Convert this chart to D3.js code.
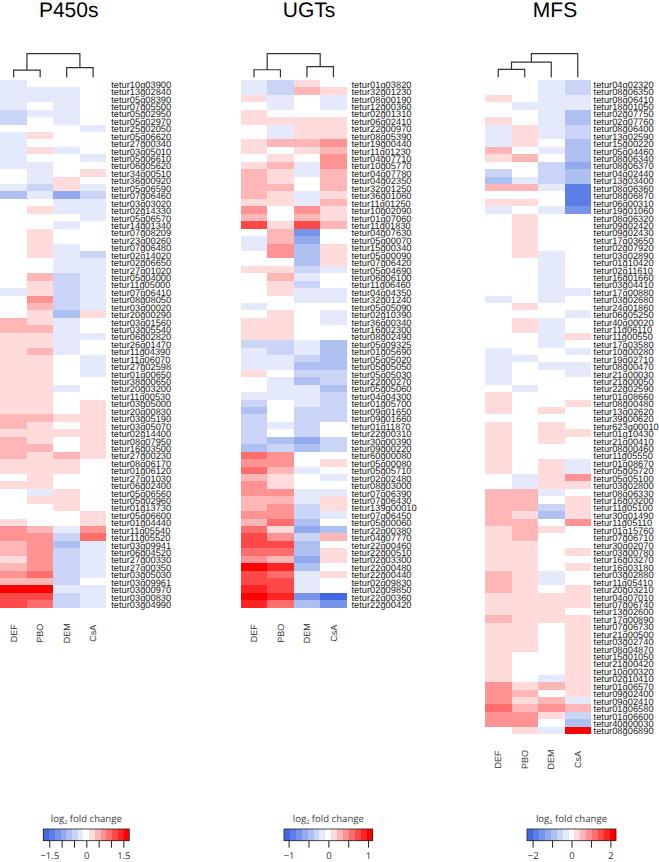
<!DOCTYPE html>
<html>
<head>
<meta charset="utf-8">
<script src="https://d3js.org/d3.v7.min.js"></script>
<style>
  html, body { margin: 0; padding: 0; background: #fff; }
  svg { display: block; font-family: "Liberation Sans", Arial, sans-serif; text-rendering: geometricPrecision; }
</style>
</head>
<body>
<div id="chart"></div>
<script>
// Treatments, same column order in all three heatmaps
const conditions = ["DEF", "PBO", "DEM", "CsA"];

// Gene labels, top to bottom
const p450Genes = ["tetur10g03900","tetur13g02840","tetur05g08390","tetur07g05500","tetur05g02950","tetur05g02970","tetur25g02050","tetur05g06620","tetur27g00340","tetur03g05010","tetur05g06610","tetur06g05620","tetur34g00510","tetur36g00920","tetur05g06590","tetur07g06460","tetur03g03020","tetur02g14330","tetur05g06570","tetur14g01340","tetur07g08209","tetur23g00260","tetur07g06480","tetur02g14020","tetur02g06650","tetur27g01020","tetur05g04000","tetur11g05000","tetur07g06410","tetur08g08050","tetur03g00020","tetur20g00290","tetur03g01560","tetur03g05540","tetur06g02820","tetur26g01470","tetur11g04390","tetur11g06070","tetur27g02598","tetur01g00650","tetur38g00650","tetur20g03200","tetur11g00530","tetur03g05000","tetur20g00830","tetur03g05190","tetur03g05070","tetur02g14400","tetur08g07950","tetur16g03500","tetur27g00230","tetur08g06170","tetur01g06120","tetur27g01030","tetur06g02400","tetur05g06560","tetur05g02960","tetur01g13730","tetur05g06600","tetur01g04440","tetur11g05540","tetur11g05520","tetur03g09941","tetur06g04520","tetur27g00330","tetur27g00350","tetur03g05030","tetur03g09961","tetur03g00970","tetur03g00830","tetur03g04990"];
const ugtGenes = ["tetur01g03820","tetur32g01230","tetur08g00190","tetur12g00360","tetur02g01310","tetur06g02410","tetur22g00970","tetur08g05390","tetur19g00440","tetur11g01230","tetur04g07710","tetur10g05770","tetur04g07780","tetur04g02350","tetur32g01250","tetur36g01060","tetur11g01250","tetur10g02090","tetur01g07060","tetur11g01830","tetur04g07630","tetur05g00070","tetur15g00340","tetur05g00090","tetur07g06420","tetur05g04690","tetur06g06100","tetur11g06460","tetur04g04350","tetur32g01240","tetur05g05090","tetur02g10390","tetur36g00340","tetur16g02300","tetur08g02490","tetur05g09325","tetur01g05690","tetur05g05020","tetur05g05050","tetur05g05030","tetur22g00270","tetur05g05060","tetur04g04300","tetur01g05700","tetur09g01650","tetur09g01660","tetur01g11870","tetur22g00310","tetur30g00390","tetur09g00220","tetur60g00080","tetur05g00080","tetur05g05710","tetur02g02480","tetur08g03000","tetur07g06390","tetur07g06430","tetur139g00010","tetur07g06450","tetur05g00060","tetur22g00380","tetur04g07770","tetur22g00460","tetur22g00510","tetur02g03300","tetur22g00480","tetur22g00440","tetur02g09830","tetur02g09850","tetur22g00360","tetur22g00420"];
const mfsGenes = ["tetur04g02320","tetur08g06350","tetur08g06410","tetur18g01050","tetur02g07750","tetur02g07760","tetur08g06400","tetur13g02590","tetur15g00220","tetur05g04460","tetur08g06340","tetur08g06370","tetur04g02440","tetur13g03400","tetur08g06360","tetur08g06870","tetur06g00310","tetur19g01060","tetur08g06320","tetur09g02420","tetur09g02430","tetur17g03650","tetur02g07920","tetur03g02890","tetur01g10420","tetur02g11610","tetur16g01660","tetur03g04410","tetur17g00880","tetur03g02680","tetur24g01860","tetur06g05250","tetur40g00020","tetur11g06110","tetur11g00550","tetur17g03580","tetur10g00280","tetur19g02710","tetur08g00470","tetur21g00030","tetur21g00050","tetur22g02590","tetur01g08660","tetur08g00480","tetur13g02620","tetur39g00620","tetur623g00010","tetur01g10430","tetur21g00410","tetur08g00460","tetur11g05550","tetur01g08670","tetur05g05720","tetur05g05100","tetur03g02800","tetur08g06330","tetur16g03200","tetur11g05100","tetur30g01490","tetur11g05110","tetur01g15760","tetur07g06710","tetur30g02070","tetur03g00780","tetur16g03270","tetur16g03180","tetur03g02880","tetur11g05410","tetur20g03210","tetur04g07010","tetur07g06740","tetur13g02600","tetur17g00890","tetur07g06730","tetur21g00500","tetur03g02740","tetur08g04870","tetur15g01050","tetur21g00420","tetur10g00320","tetur02g10410","tetur01g06570","tetur09g02400","tetur09g02410","tetur01g06580","tetur01g06600","tetur40g00030","tetur08g06890"];

const p450Levels = [
  [-1,0,0,0],[-1,-1,-1,0],[-1,-1,-1,0],[-1,0,-1,0],[-2,-1,-1,0],[-2,0,-1,0],[0,0,0,-1],[-1,1,0,0],
  [-1,0,0,0],[-1,1,-1,0],[-1,0,0,-1],[-1,-1,0,0],[0,-1,0,1],[0,-1,1,0],[-1,-2,1,-1],[-3,-1,-4,-2],
  [0,0,-1,-1],[0,1,-1,-1],[0,0,0,-1],[0,0,-1,0],[0,1,0,0],[0,1,0,0],[0,1,-1,0],[0,1,-1,-2],
  [0,0,-1,-1],[0,0,-1,-1],[0,2,-2,-1],[0,1,-2,-1],[-1,1,-2,-1],[0,3,-2,-1],[0,2,-2,-1],[0,1,-3,1],
  [2,1,-1,0],[2,2,-1,0],[1,1,-1,-1],[1,1,-1,0],[1,2,-1,0],[1,1,0,-1],[1,1,0,-1],[1,1,0,-1],
  [1,1,0,0],[1,1,-1,0],[1,1,0,0],[1,1,0,1],[1,1,0,1],[2,2,1,1],[2,1,0,1],[1,1,1,1],
  [2,1,0,1],[2,2,0,1],[2,1,2,1],[1,1,1,0],[1,1,1,0],[0,1,0,0],[1,1,0,0],[0,-1,1,0],
  [0,1,1,0],[0,0,1,0],[0,0,0,1],[1,0,0,1],[3,2,-1,3],[3,3,-2,4],[2,3,-3,-1],[2,3,-2,-1],
  [1,3,-2,-1],[2,3,-2,-1],[3,4,-2,-1],[2,2,-2,0],[7,7,-1,-1],[5,5,-2,-1],[5,4,-2,-1]
];
const ugtLevels = [
  [-1,-2,1,0],[-1,-2,2,1],[1,-1,0,-1],[0,-1,0,-1],[1,0,0,0],[1,1,1,1],[0,-1,1,1],[0,-1,1,1],
  [1,2,2,3],[1,0,1,2],[0,1,0,3],[1,2,-1,3],[2,1,-1,2],[2,1,0,2],[2,2,0,2],[2,1,-1,1],
  [1,1,-1,2],[3,0,3,1],[2,0,2,1],[5,1,5,2],[0,2,-5,0],[-1,2,-4,0],[-1,3,-3,1],[0,3,-3,1],
  [0,0,-3,1],[1,1,-2,-1],[0,2,-1,0],[0,1,-2,0],[0,1,-1,-1],[0,0,-1,-1],[-1,0,0,0],[0,1,0,-1],
  [1,1,0,-1],[1,1,0,0],[1,1,0,0],[-2,-2,-1,-3],[-1,-2,-1,-3],[-1,-1,-2,-3],[-1,-1,-3,-3],[1,0,-2,-2],
  [0,-1,-3,-2],[0,-1,-1,-3],[-1,-1,-1,-2],[-2,0,-1,-2],[-3,0,-2,-2],[-2,0,-2,-2],[-2,-1,-2,0],[-2,0,-2,0],
  [-2,-3,-4,-2],[-3,-2,-3,-2],[4,3,0,0],[3,3,0,1],[4,2,-1,0],[2,1,0,-1],[3,1,0,0],[3,3,-1,-1],
  [2,2,-1,1],[2,3,-2,1],[3,3,-2,-1],[2,4,-3,0],[4,1,-4,-3],[5,3,-2,2],[5,5,-3,0],[4,4,-3,1],
  [3,2,-4,1],[7,6,-3,0],[5,4,-1,1],[5,5,-1,0],[6,5,-1,0],[7,6,-5,-7],[6,4,-3,-5]
];
const mfsLevels = [
  [0,0,-1,-2],[0,0,-1,-2],[1,0,-1,-1],[0,-1,-1,-1],[0,0,-1,-3],[1,0,-1,-3],[-1,1,-1,-2],[-1,1,-1,-2],
  [-1,1,0,-3],[2,0,-1,-3],[1,2,0,-3],[0,0,-2,-4],[-2,0,-2,-3],[-3,-1,-2,-3],[2,2,-1,-6],[0,0,0,-6],
  [1,1,0,-6],[-1,0,-1,-5],[0,1,0,0],[0,1,0,0],[0,1,0,0],[0,1,0,0],[0,1,0,0],[0,1,-1,0],
  [0,0,-1,0],[0,0,-1,0],[0,0,-1,0],[0,0,-1,0],[0,0,-1,-1],[-1,0,-1,0],[0,1,0,0],[0,0,0,-1],
  [0,1,-1,0],[0,1,-1,0],[0,0,-1,1],[0,0,-1,0],[-1,0,0,-1],[-1,-1,0,0],[-1,0,-1,-1],[-1,0,0,-1],
  [-1,0,0,0],[0,-1,0,0],[1,0,0,0],[1,0,0,1],[1,0,1,0],[0,0,0,0],[1,0,1,0],[1,0,1,1],
  [1,0,1,0],[1,0,0,0],[1,0,0,0],[1,0,1,-1],[1,0,1,-1],[0,-1,1,3],[0,-1,1,1],[2,2,-1,0],
  [2,2,0,1],[2,2,-2,1],[2,1,-3,1],[2,2,0,3],[1,2,1,0],[1,2,0,0],[1,1,0,0],[1,1,0,1],
  [1,1,0,0],[1,1,0,1],[2,1,-1,0],[2,1,-1,0],[2,1,0,1],[1,1,1,1],[1,1,1,1],[1,1,1,0],
  [2,1,1,1],[1,1,0,1],[1,1,0,1],[1,1,0,1],[1,1,0,1],[1,0,0,1],[1,0,0,1],[1,0,0,1],
  [1,0,-1,1],[3,1,2,1],[3,2,0,1],[3,1,2,-1],[4,2,3,2],[3,3,1,-2],[3,3,0,-3],[0,1,-1,7]
];

// Dendrogram merges: [left, right, height], height as a share of the root
const p450Tree = [["DEF","PBO",0.30],["DEM","CsA",0.41],[0,1,1]];
const ugtTree = [["DEF","PBO",0.32],["DEM","CsA",0.45],[0,1,1]];
const mfsTree = [["DEF","PBO",0.34],[0,"DEM",0.64],[1,"CsA",1]];

// Colour key ticks
const p450Ticks = [-1.5,-1,-0.5,0,0.5,1,1.5];
const ugtTicks = [-1,-0.5,0,0.5,1];
const mfsTicks = [-2,-1,0,1,2];
const p450TickLabels = [-1.5,0,1.5];
const ugtTickLabels = [-1,0,1];
const mfsTickLabels = [-2,0,2];
const keyLevels = d3.range(-7, 8);

const width = 659;
const height = 862;

const color = d3.scaleLinear().domain([-7, 0, 7]).range(["royalblue", "#ffffff", "#ff0000"]);

const svg = d3.select("#chart").append("svg").attr("width", width).attr("height", height);

const panels = [
  { title: "P450s", genes: p450Genes, levels: p450Levels, tree: p450Tree, x: 0.4, labelX: 111.2, titleX: 68.7,
    keyTicks: p450Ticks, keyLabels: p450TickLabels, keyX: [43.3, 129.3], keyMax: 1.743 },
  { title: "UGTs", genes: ugtGenes, levels: ugtLevels, tree: ugtTree, x: 240.7, labelX: 351.5, titleX: 309,
    keyTicks: ugtTicks, keyLabels: ugtTickLabels, keyX: [284, 372.7], keyMax: 1.116 },
  { title: "MFS", genes: mfsGenes, levels: mfsLevels, tree: mfsTree, x: 485, labelX: 593.6, titleX: 555,
    keyTicks: mfsTicks, keyLabels: mfsTickLabels, keyX: [527, 616], keyMax: 2.29 },
];

panels.forEach(drawPanel);

function drawPanel(p) {
  const g = svg.append("g");
  const rowHeight = 7.433;
  const xScale = d3.scaleBand().domain(conditions).range([p.x, p.x + 106]);
  const yScale = d3.scaleBand().domain(p.genes).range([80, 80 + rowHeight * p.genes.length]);

  g.append("text")
    .attr("x", p.titleX)
    .attr("y", 16.5)
    .attr("text-anchor", "middle")
    .attr("font-size", 21)
    .attr("fill", "#000")
    .text(p.title);

  // heatmap cells
  const cells = p.genes.flatMap((gene, i) =>
    conditions.map((c, j) => ({ gene: gene, condition: c, level: p.levels[i][j] }))
  );
  g.selectAll("rect.cell")
    .data(cells)
    .enter()
    .append("rect")
    .attr("class", "cell")
    .attr("x", (d) => xScale(d.condition))
    .attr("y", (d) => yScale(d.gene))
    .attr("width", xScale.bandwidth())
    .attr("height", yScale.bandwidth())
    .attr("shape-rendering", "crispEdges")
    .attr("fill", (d) => color(d.level));

  // gene labels
  g.selectAll("text.gene")
    .data(p.genes)
    .enter()
    .append("text")
    .attr("class", "gene")
    .attr("x", p.labelX)
    .attr("y", (d) => yScale(d) + yScale.bandwidth() / 2 + 4)
    .attr("font-size", 9.3)
    .attr("fill", "#222")
    .text((d) => d);

  // column labels
  const labelY = yScale.range()[1] + 25.5;
  g.selectAll("text.condition")
    .data(conditions)
    .enter()
    .append("text")
    .attr("class", "condition")
    .attr("transform", (d) => `translate(${xScale(d) + xScale.bandwidth() / 2 + 3.2},${labelY}) rotate(-90)`)
    .attr("text-anchor", "middle")
    .attr("font-size", 9)
    .attr("fill", "#333")
    .text((d) => d);

  drawTree(g, p.tree, xScale);
  drawKey(g, p);
}

function drawTree(g, tree, xScale) {
  const treeY = d3.scaleLinear().domain([0, 1]).range([77.3, 53.7]);
  const nodes = [];
  const locate = (ref) =>
    typeof ref === "number" ? nodes[ref] : { x: xScale(ref) + xScale.bandwidth() / 2, h: 0 };
  const path = d3.path();
  tree.forEach(([a, b, h]) => {
    const l = locate(a);
    const r = locate(b);
    path.moveTo(l.x, treeY(l.h));
    path.lineTo(l.x, treeY(h));
    path.lineTo(r.x, treeY(h));
    path.lineTo(r.x, treeY(r.h));
    nodes.push({ x: (l.x + r.x) / 2, h: h });
  });
  g.append("path")
    .attr("d", path.toString())
    .attr("fill", "none")
    .attr("stroke", "#333")
    .attr("stroke-width", 1.2);
}

function drawKey(g, p) {
  const keyTop = 829;
  const keyHeight = 11.7;
  const keyScale = d3.scaleLinear().domain([-p.keyMax, p.keyMax]).range(p.keyX);
  const binWidth = (2 * p.keyMax) / keyLevels.length;
  const key = g.append("g");

  key.selectAll("rect")
    .data(keyLevels)
    .enter()
    .append("rect")
    .attr("x", (d) => keyScale((d - 0.5) * binWidth))
    .attr("y", keyTop)
    .attr("width", keyScale(binWidth) - keyScale(0))
    .attr("height", keyHeight)
    .attr("shape-rendering", "crispEdges")
    .attr("fill", (d) => color(d));

  key.append("rect")
    .attr("x", p.keyX[0])
    .attr("y", keyTop)
    .attr("width", p.keyX[1] - p.keyX[0])
    .attr("height", keyHeight)
    .attr("fill", "none")
    .attr("stroke", "#222")
    .attr("stroke-width", 0.8);

  const axis = d3.axisBottom(keyScale)
    .tickValues(p.keyTicks)
    .tickSize(7)
    .tickPadding(5)
    .tickFormat((d) => (p.keyLabels.includes(d) ? d3.format("")(d).replace("-", "\u2212") : ""));

  const axisG = key.append("g")
    .attr("transform", `translate(0,${keyTop + keyHeight})`)
    .call(axis);
  axisG.select(".domain").remove();
  axisG.selectAll(".tick line").attr("stroke", "#222").attr("stroke-width", 1);
  axisG.selectAll(".tick text")
    .attr("fill", "#333")
    .style("font-family", '"Open Sans", sans-serif')
    .style("font-size", "9.5px");

  const title = key.append("text")
    .attr("x", keyScale(0))
    .attr("y", 821.7)
    .attr("text-anchor", "middle")
    .attr("fill", "#444")
    .style("font-family", '"Open Sans", sans-serif')
    .style("font-size", "9.6px");
  title.append("tspan").text("log");
  title.append("tspan").attr("dy", 2).style("font-size", "5.5px").text("2");
  title.append("tspan").attr("dy", -2).text(" fold change");
}
</script>
</body>
</html>
